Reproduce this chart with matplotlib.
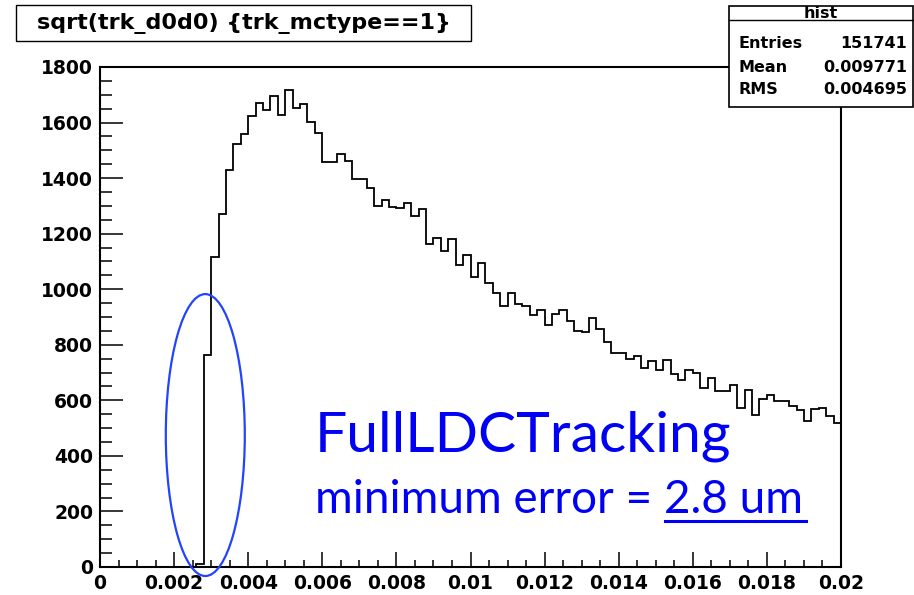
import numpy as np
import matplotlib
matplotlib.use("Agg")
import matplotlib.pyplot as plt
from matplotlib.patches import Ellipse, Rectangle
from matplotlib.ticker import FixedLocator, FixedFormatter, MultipleLocator

# histogram: 100 bins between 0 and 0.02
x_min, x_max, n_bins = 0.0, 0.02, 100
counts = [0] * 13 + [
    10, 762, 1115, 1272, 1428, 1522, 1560, 1625, 1671, 1644,
    1695, 1627, 1718, 1651, 1668, 1603, 1564, 1459, 1459, 1488,
    1462, 1398, 1398, 1363, 1300, 1321, 1295, 1294, 1309, 1262,
    1290, 1163, 1184, 1136, 1180, 1088, 1124, 1043, 1096, 1022,
    986, 940, 986, 946, 940, 906, 926, 872, 911, 926,
    884, 851, 847, 895, 857, 809, 770, 770, 748, 758,
    716, 741, 710, 745, 696, 672, 708, 697, 646, 680,
    635, 635, 655, 571, 637, 547, 604, 618, 598, 599,
    580, 565, 526, 568, 572, 544, 520]

x_ticks = [0, 0.002, 0.004, 0.006, 0.008, 0.01, 0.012, 0.014, 0.016, 0.018, 0.02]
x_labels = ['0', '0.002', '0.004', '0.006', '0.008', '0.01', '0.012', '0.014',
            '0.016', '0.018', '0.02']
y_ticks = [0, 200, 400, 600, 800, 1000, 1200, 1400, 1600, 1800]

title = 'sqrt(trk_d0d0) {trk_mctype==1}'
stat_title = 'hist'
stat_names = ['Entries', 'Mean', 'RMS']
stat_values = ['151741', '0.009771', '0.004695']

W, H = 914, 595
fig = plt.figure(figsize=(W / 100, H / 100), dpi=100)
ax = fig.add_axes([100 / W, 1 - 567 / H, 741 / W, 500 / H])

edges = np.linspace(x_min, x_max, n_bins + 1)
ax.stairs(counts, edges, color='black', lw=1.3)

ax.set_xlim(x_min, x_max)
ax.set_ylim(0, 1800)

ax.xaxis.set_major_locator(FixedLocator(x_ticks))
ax.xaxis.set_major_formatter(FixedFormatter(x_labels))
ax.xaxis.set_minor_locator(MultipleLocator(0.0005))
ax.yaxis.set_major_locator(FixedLocator(y_ticks))
ax.yaxis.set_minor_locator(MultipleLocator(50))

ax.tick_params(axis='both', which='both', direction='in', width=1.1,
               labelsize=13.5, top=False, right=False)
ax.tick_params(axis='x', which='major', length=11, pad=5)
ax.tick_params(axis='x', which='minor', length=5)
ax.tick_params(axis='y', which='major', length=16.5, pad=5)
ax.tick_params(axis='y', which='minor', length=8.5)
for lab in ax.get_xticklabels() + ax.get_yticklabels():
    lab.set_fontweight('bold')
for s in ax.spines.values():
    s.set_linewidth(1.5)

# blue ellipse round the turn-on
ell = Ellipse((0.002842, 475), 0.002132, 1015, fill=False,
              edgecolor='#2244ff', lw=1.6, clip_on=False, zorder=5)
ax.add_patch(ell)

# title box
fig.patches.append(Rectangle((16 / W, 1 - 41 / H), 455 / W, 36 / H,
                             transform=fig.transFigure, facecolor='white',
                             edgecolor='black', lw=1.0))
fig.text(244 / W, 1 - 23 / H, title, ha='center', va='center',
         fontsize=16, fontweight='bold')

# stats box
bx0, bx1, by0, by1 = 729, 913, 6, 107
fig.patches.append(Rectangle((bx0 / W, 1 - by1 / H), (bx1 - bx0) / W, (by1 - by0) / H,
                             transform=fig.transFigure, facecolor='white',
                             edgecolor='black', lw=1.2, zorder=10))
fig.add_artist(plt.Line2D([bx0 / W, bx1 / W], [1 - 20 / H, 1 - 20 / H],
                          color='black', lw=1.0, zorder=11))
fig.text((bx0 + bx1) / 2 / W, 1 - 13 / H, stat_title, ha='center', va='center',
         fontsize=11.5, fontweight='bold', zorder=12)
row_y = [44, 67, 89]
for name, val, ry in zip(stat_names, stat_values, row_y):
    fig.text(739 / W, 1 - ry / H, name, ha='left', va='center',
             fontsize=11.5, fontweight='bold', zorder=12)
    fig.text(907 / W, 1 - ry / H, val, ha='right', va='center',
             fontsize=11.5, fontweight='bold', zorder=12)

# annotation
fig.text(315 / W, 1 - 451.7 / H, 'FullLDCTracking', ha='left', va='baseline',
         fontsize=41, color='#0000f5', family='Lato')
fig.text(315 / W, 1 - 513 / H, 'minimum error = 2.8 um', ha='left', va='baseline',
         fontsize=33, color='#0000f5', family='Lato')
fig.add_artist(plt.Line2D([665 / W, 806 / W], [1 - 521 / H, 1 - 521 / H],
                          color='#0000f5', lw=2.2))

fig.savefig('out.png', dpi=100)
